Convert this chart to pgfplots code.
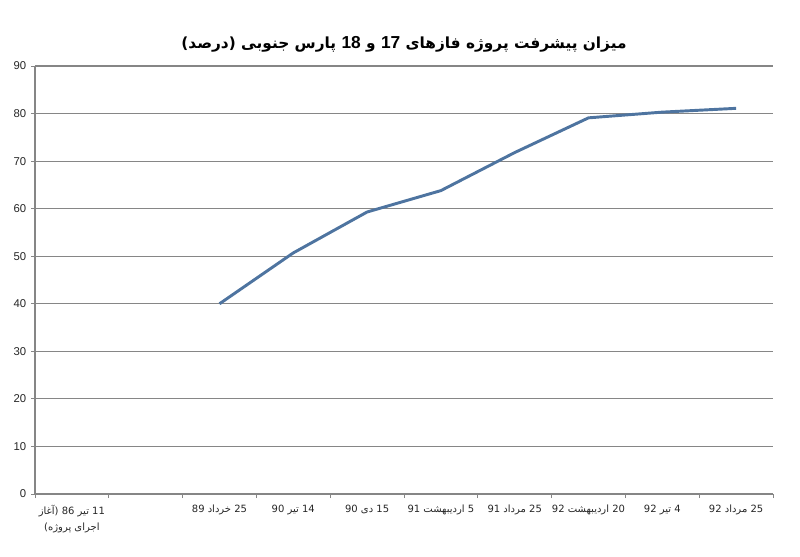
\documentclass[border=0pt]{standalone}
\usepackage{fontspec}
\setmainfont{Liberation Sans}
\newfontfamily\arabicfont[Script=Arabic]{DejaVu Sans}
\newfontfamily\latinfont{Liberation Sans}
\TeXXeTstate=1
\usepackage{pgfplots}
\pgfplotsset{compat=1.18}
\definecolor{lineblue}{RGB}{78,116,160}
\definecolor{gridgray}{RGB}{134,134,134}
\begin{document}
\begin{tikzpicture}[x=1pt,y=1pt]
\begin{axis}[
  at={(0,0)}, anchor=south west,
  scale only axis,
  width=553.5pt, height=321pt,
  xmin=0.5, xmax=10.5,
  ymin=0, ymax=90,
  ytick={0,10,...,90},
  xtick={1,...,10},
  xticklabels={{{\arabicfont\beginR 11 تیر 86 (آغاز\endR}\\{\arabicfont\beginR اجرای پروژه)\endR}},{},{\arabicfont\beginR 25 خرداد 89\endR},{\arabicfont\beginR 14 تیر 90\endR},{\arabicfont\beginR 15 دی 90\endR},{\arabicfont\beginR 5 اردیبهشت 91\endR},{\arabicfont\beginR 25 مرداد 91\endR},{\arabicfont\beginR 20 اردیبهشت 92\endR},{\arabicfont\beginR 4 تیر 92\endR},{\arabicfont\beginR 25 مرداد 92\endR}},
  major x tick style={draw=none},
  extra x ticks={0.5,1.5,...,10.5},
  extra x tick labels={},
  extra x tick style={major x tick style={draw=gridgray, line width=0.6pt}, major tick length=3pt, xmajorgrids=false},
  major tick length=3pt,
  tick align=outside,
  axis lines*=left,
  xtick pos=bottom, ytick pos=left,
  axis line style={draw=gridgray, line width=0.8pt},
  every tick/.style={gridgray, line width=0.6pt},
  ymajorgrids,
  major grid style={gridgray, line width=0.8pt},
  xticklabel style={font=\fontsize{7.5}{12}\selectfont, align=center, text=black!85, yshift=-2pt},
  yticklabel style={font=\fontsize{8.5}{9}\selectfont, text=black!85},
  /pgf/number format/assume math mode=true,
  title={{\arabicfont\bfseries\beginR میزان پیشرفت پروژه فازهای {\latinfont\bfseries\fontsize{13}{14}\selectfont 17} و {\latinfont\bfseries\fontsize{13}{14}\selectfont 18} پارس جنوبی (درصد)\endR}},
  title style={at={(0.5,1)}, anchor=center, yshift=10pt, font=\fontsize{11.5}{14}\selectfont},
  clip=false,
]
\addplot[lineblue, line width=2.2pt, line join=round] coordinates {
 (3,40) (4,50.7) (5,59.3) (6,63.8) (7,71.8) (8,79.1) (9,80.3) (10,81.1)
};
\end{axis}
\path[use as bounding box] (-26.25,-47.25) rectangle (573.75,370.5);
\end{tikzpicture}
\end{document}
